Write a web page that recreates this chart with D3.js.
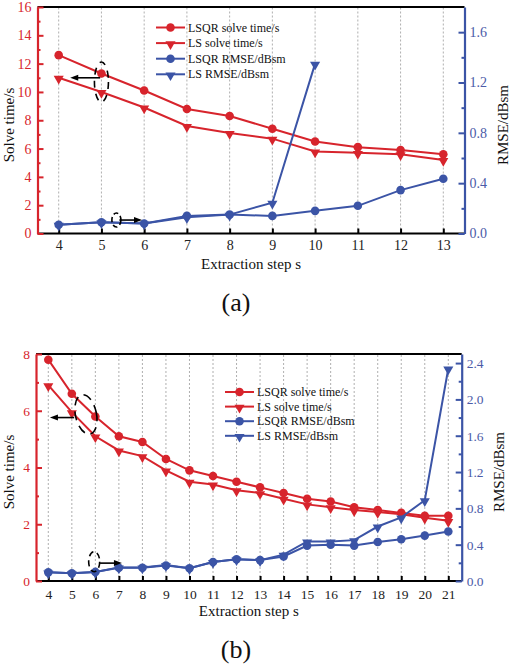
<!DOCTYPE html>
<meta charset="utf-8">
<style>
body { margin: 0; background: #fff; }
svg { display: block; font-family: "Liberation Serif", "Times New Roman", serif; }
</style>
<svg width="511" height="667"></svg>
<script src="https://d3js.org/d3.v7.min.js"></script>
<script>
var red = "#d7242c", blue = "#3b54a6", blueText = "#4b5ba8";

// panel (a)
var stepsA = [4, 5, 6, 7, 8, 9, 10, 11, 12, 13];
var lsqrTimeA = [12.6, 11.3, 10.1, 8.8, 8.3, 7.4, 6.5, 6.1, 5.9, 5.6];
var lsTimeA = [11.0, 10.0, 8.9, 7.6, 7.1, 6.7, 5.8, 5.7, 5.6, 5.2];
var lsqrRmseA = [0.07, 0.09, 0.08, 0.14, 0.15, 0.14, 0.18, 0.22, 0.345, 0.435];
var lsRmseA = [0.07, 0.09, 0.08, 0.13, 0.15, 0.245, 1.35]; // stops at step 10
var timeTicksA = [0, 2, 4, 6, 8, 10, 12, 14, 16];
var rmseTicksA = [0.0, 0.4, 0.8, 1.2, 1.6];

// panel (b)
var stepsB = [4, 5, 6, 7, 8, 9, 10, 11, 12, 13, 14, 15, 16, 17, 18, 19, 20, 21];
var lsqrTimeB = [7.8, 6.6, 5.8, 5.1, 4.9, 4.3, 3.9, 3.7, 3.5, 3.3, 3.1, 2.9, 2.8, 2.6, 2.5, 2.4, 2.3, 2.3];
var lsTimeB = [6.9, 5.95, 5.1, 4.6, 4.4, 3.9, 3.5, 3.4, 3.2, 3.1, 2.9, 2.7, 2.6, 2.5, 2.43, 2.35, 2.23, 2.12];
var lsqrRmseB = [0.095, 0.085, 0.1, 0.145, 0.145, 0.17, 0.14, 0.21, 0.24, 0.23, 0.27, 0.39, 0.4, 0.39, 0.43, 0.46, 0.5, 0.545];
var lsRmseB = [0.095, 0.085, 0.1, 0.15, 0.15, 0.175, 0.14, 0.21, 0.24, 0.23, 0.29, 0.435, 0.435, 0.45, 0.6, 0.7, 0.89, 2.34];
var timeTicksB = [0, 2, 4, 6, 8];
var rmseTicksB = [0.0, 0.4, 0.8, 1.2, 1.6, 2.0, 2.4];

var legendLabels = ["LSQR solve time/s", "LS solve time/s", "LSQR RMSE/dBsm", "LS RMSE/dBsm"];
var xTitle = "Extraction step s", yLeftTitle = "Solve time/s", yRightTitle = "RMSE/dBsm";

var svg = d3.select("svg");

function drawPanel(p) {
  var g = svg.append("g");
  var x = d3.scaleLinear().domain([p.steps[0], p.steps[p.steps.length - 1]]).range(p.xRange);
  var yT = d3.scaleLinear().domain([0, p.timeMax]).range([p.bottom, p.top]);
  var yR = d3.scaleLinear().domain([0, p.rmseMax]).range([p.bottom, p.top]);

  // dashed vertical grid
  g.selectAll(".grid").data(p.steps).enter().append("line")
    .attr("x1", d => x(d)).attr("x2", d => x(d))
    .attr("y1", p.bottom).attr("y2", p.top)
    .attr("stroke", "#9a9a9a").attr("stroke-width", 0.8)
    .attr("stroke-dasharray", "2,2");

  // top border + bottom axis line
  g.append("line").attr("x1", p.left).attr("x2", p.right).attr("y1", p.top).attr("y2", p.top)
    .attr("stroke", "#000").attr("stroke-width", 2);
  g.append("line").attr("x1", p.left).attr("x2", p.right).attr("y1", p.bottom).attr("y2", p.bottom)
    .attr("stroke", "#000").attr("stroke-width", 2);

  // x axis
  var ax = g.append("g").attr("transform", "translate(0," + p.bottom + ")")
    .call(d3.axisBottom(x).tickValues(p.steps).tickSizeInner(-5).tickSizeOuter(0).tickPadding(p.xPad))
    .attr("font-family", null);
  ax.select(".domain").remove();
  ax.selectAll("line").attr("stroke", "#000").attr("stroke-width", 2);
  ax.selectAll("text").attr("font-size", p.tickFont).attr("fill", "#222");

  // left axis
  var minorT = p.timeTicks.slice(1).map((d, i) => (d + p.timeTicks[i]) / 2);
  var al = g.append("g").attr("transform", "translate(" + p.left + ",0)")
    .call(d3.axisLeft(yT).tickValues(p.timeTicks).tickSizeInner(-6).tickSizeOuter(0).tickPadding(6))
    .attr("font-family", null);
  al.append("g").call(d3.axisLeft(yT).tickValues(minorT).tickSizeInner(-3).tickSizeOuter(0).tickFormat(""))
    .select(".domain").remove();
  al.selectAll(".domain").attr("stroke", red).attr("stroke-width", 2.2);
  al.selectAll("line").attr("stroke", red).attr("stroke-width", 2);
  al.selectAll("text").attr("font-size", p.tickFont).attr("fill", red);

  // right axis
  var minorR = p.rmseTicks.map(d => d + (p.rmseTicks[1] - p.rmseTicks[0]) / 2).filter(d => d < p.rmseMax);
  var ar = g.append("g").attr("transform", "translate(" + p.right + ",0)")
    .call(d3.axisRight(yR).tickValues(p.rmseTicks).tickSizeInner(-6).tickSizeOuter(0).tickPadding(5)
      .tickFormat(d3.format(".1f")))
    .attr("font-family", null);
  ar.append("g").call(d3.axisRight(yR).tickValues(minorR).tickSizeInner(-3).tickSizeOuter(0).tickFormat(""))
    .select(".domain").remove();
  ar.selectAll(".domain").attr("stroke", blue).attr("stroke-width", 2.2);
  ar.selectAll("line").attr("stroke", blue).attr("stroke-width", 2);
  ar.selectAll("text").attr("font-size", p.tickFont).attr("fill", blueText);

  // series
  var series = [
    { vals: p.lsqrTime, y: yT, color: red, shape: "circle" },
    { vals: p.lsTime, y: yT, color: red, shape: "tri" },
    { vals: p.lsqrRmse, y: yR, color: blue, shape: "circle" },
    { vals: p.lsRmse, y: yR, color: blue, shape: "tri" }
  ];
  var tri = d3.symbol().type(d3.symbolTriangle).size(44);
  series.forEach(function(s) {
    var pts = s.vals.map((v, i) => [p.steps[i], v]);
    g.append("path").datum(pts)
      .attr("d", d3.line().x(d => x(d[0])).y(d => s.y(d[1])))
      .attr("fill", "none").attr("stroke", s.color).attr("stroke-width", 2);
    if (s.shape == "circle") {
      g.selectAll(null).data(pts).enter().append("circle")
        .attr("cx", d => x(d[0])).attr("cy", d => s.y(d[1])).attr("r", 4.3)
        .attr("fill", s.color);
    } else {
      g.selectAll(null).data(pts).enter().append("path")
        .attr("d", tri)
        .attr("transform", d => "translate(" + x(d[0]) + "," + (s.y(d[1]) + 1) + ") rotate(180)")
        .attr("fill", s.color);
    }
  });

  // legend
  var lg = g.append("g");
  legendLabels.forEach(function(label, i) {
    var s = series[i];
    var ly = p.legY + i * p.legStep;
    lg.append("line").attr("x1", p.legX).attr("x2", p.legX + 29).attr("y1", ly).attr("y2", ly)
      .attr("stroke", s.color).attr("stroke-width", 2);
    if (s.shape == "circle") {
      lg.append("circle").attr("cx", p.legX + 14.5).attr("cy", ly).attr("r", 4.3).attr("fill", s.color);
    } else {
      lg.append("path").attr("d", tri)
        .attr("transform", "translate(" + (p.legX + 14.5) + "," + (ly + 1) + ") rotate(180)")
        .attr("fill", s.color);
    }
    lg.append("text").attr("x", p.legX + 32).attr("y", ly + 4).attr("font-size", 12)
      .attr("fill", "#111").text(label);
  });

  // dashed ellipses with arrows
  p.notes.forEach(function(n) {
    g.append("ellipse").attr("cx", x(n.cx)).attr("cy", yT(n.cy))
      .attr("rx", n.rx).attr("ry", n.ry)
      .attr("transform", "rotate(" + (n.rot || 0) + "," + x(n.cx) + "," + yT(n.cy) + ")")
      .attr("fill", "none").attr("stroke", "#000").attr("stroke-width", 1.6)
      .attr("stroke-dasharray", n.dash);
    var x1 = x(n.from), x2 = x(n.to), ay = yT(n.ay), dir = x2 > x1 ? 1 : -1;
    g.append("line").attr("x1", x1).attr("x2", x2 - dir * 6).attr("y1", ay).attr("y2", ay)
      .attr("stroke", "#000").attr("stroke-width", 1.6);
    g.append("path")
      .attr("d", "M" + x2 + "," + ay + "L" + (x2 - dir * 8) + "," + (ay - 3) + "L" + (x2 - dir * 8) + "," + (ay + 3) + "Z")
      .attr("fill", "#000");
  });

  // titles
  g.append("text").attr("x", (p.left + p.right) / 2).attr("y", p.xTitleY)
    .attr("text-anchor", "middle").attr("font-size", 15).attr("fill", "#111").text(xTitle);
  g.append("text").attr("transform", "translate(" + p.yLeftX + "," + p.yTitleMid + ") rotate(-90)")
    .attr("text-anchor", "middle").attr("font-size", 15).attr("fill", "#111").text(yLeftTitle);
  g.append("text").attr("transform", "translate(" + p.yRightX + "," + p.yTitleMid + ") rotate(-90)")
    .attr("text-anchor", "middle").attr("font-size", 15).attr("fill", "#111").text(yRightTitle);
  g.append("text").attr("x", 236).attr("y", p.tagY)
    .attr("text-anchor", "middle").attr("font-size", 26).attr("fill", "#111").text(p.tag);
}

drawPanel({
  steps: stepsA, lsqrTime: lsqrTimeA, lsTime: lsTimeA, lsqrRmse: lsqrRmseA, lsRmse: lsRmseA,
  timeTicks: timeTicksA, rmseTicks: rmseTicksA, timeMax: 16, rmseMax: 1.8,
  left: 37.5, right: 464.5, top: 7, bottom: 233.5, xRange: [58.7, 443.3],
  tickFont: 14, xPad: 7, legX: 156, legY: 27.5, legStep: 15.6,
  xTitleY: 269, yLeftX: 13.5, yRightX: 507.5, yTitleMid: 125, tagY: 311, tag: "(a)",
  notes: [
    { cx: 5, cy: 10.7, rx: 7, ry: 20, dash: "7,6", from: 4.97, to: 4.27, ay: 11.0 },
    { cx: 5.35, cy: 0.95, rx: 4.5, ry: 7, dash: "5,3", from: 5.42, to: 5.95, ay: 0.95 }
  ]
});

drawPanel({
  steps: stepsB, lsqrTime: lsqrTimeB, lsTime: lsTimeB, lsqrRmse: lsqrRmseB, lsRmse: lsRmseB,
  timeTicks: timeTicksB, rmseTicks: rmseTicksB, timeMax: 8, rmseMax: 2.5,
  left: 36, right: 461.7, top: 354, bottom: 581, xRange: [48.3, 448.3],
  tickFont: 13.5, xPad: 8, legX: 225, legY: 392, legStep: 14.6,
  xTitleY: 616, yLeftX: 14, yRightX: 504, yTitleMid: 472, tagY: 658, tag: "(b)",
  notes: [
    { cx: 5.6, cy: 5.87, rx: 10.5, ry: 20, rot: -12, dash: "9,6", from: 5.1, to: 4.07, ay: 5.76 },
    { cx: 5.95, cy: 0.68, rx: 5.5, ry: 10, dash: "6,4", from: 6.2, to: 7.13, ay: 0.63 }
  ]
});
</script>
